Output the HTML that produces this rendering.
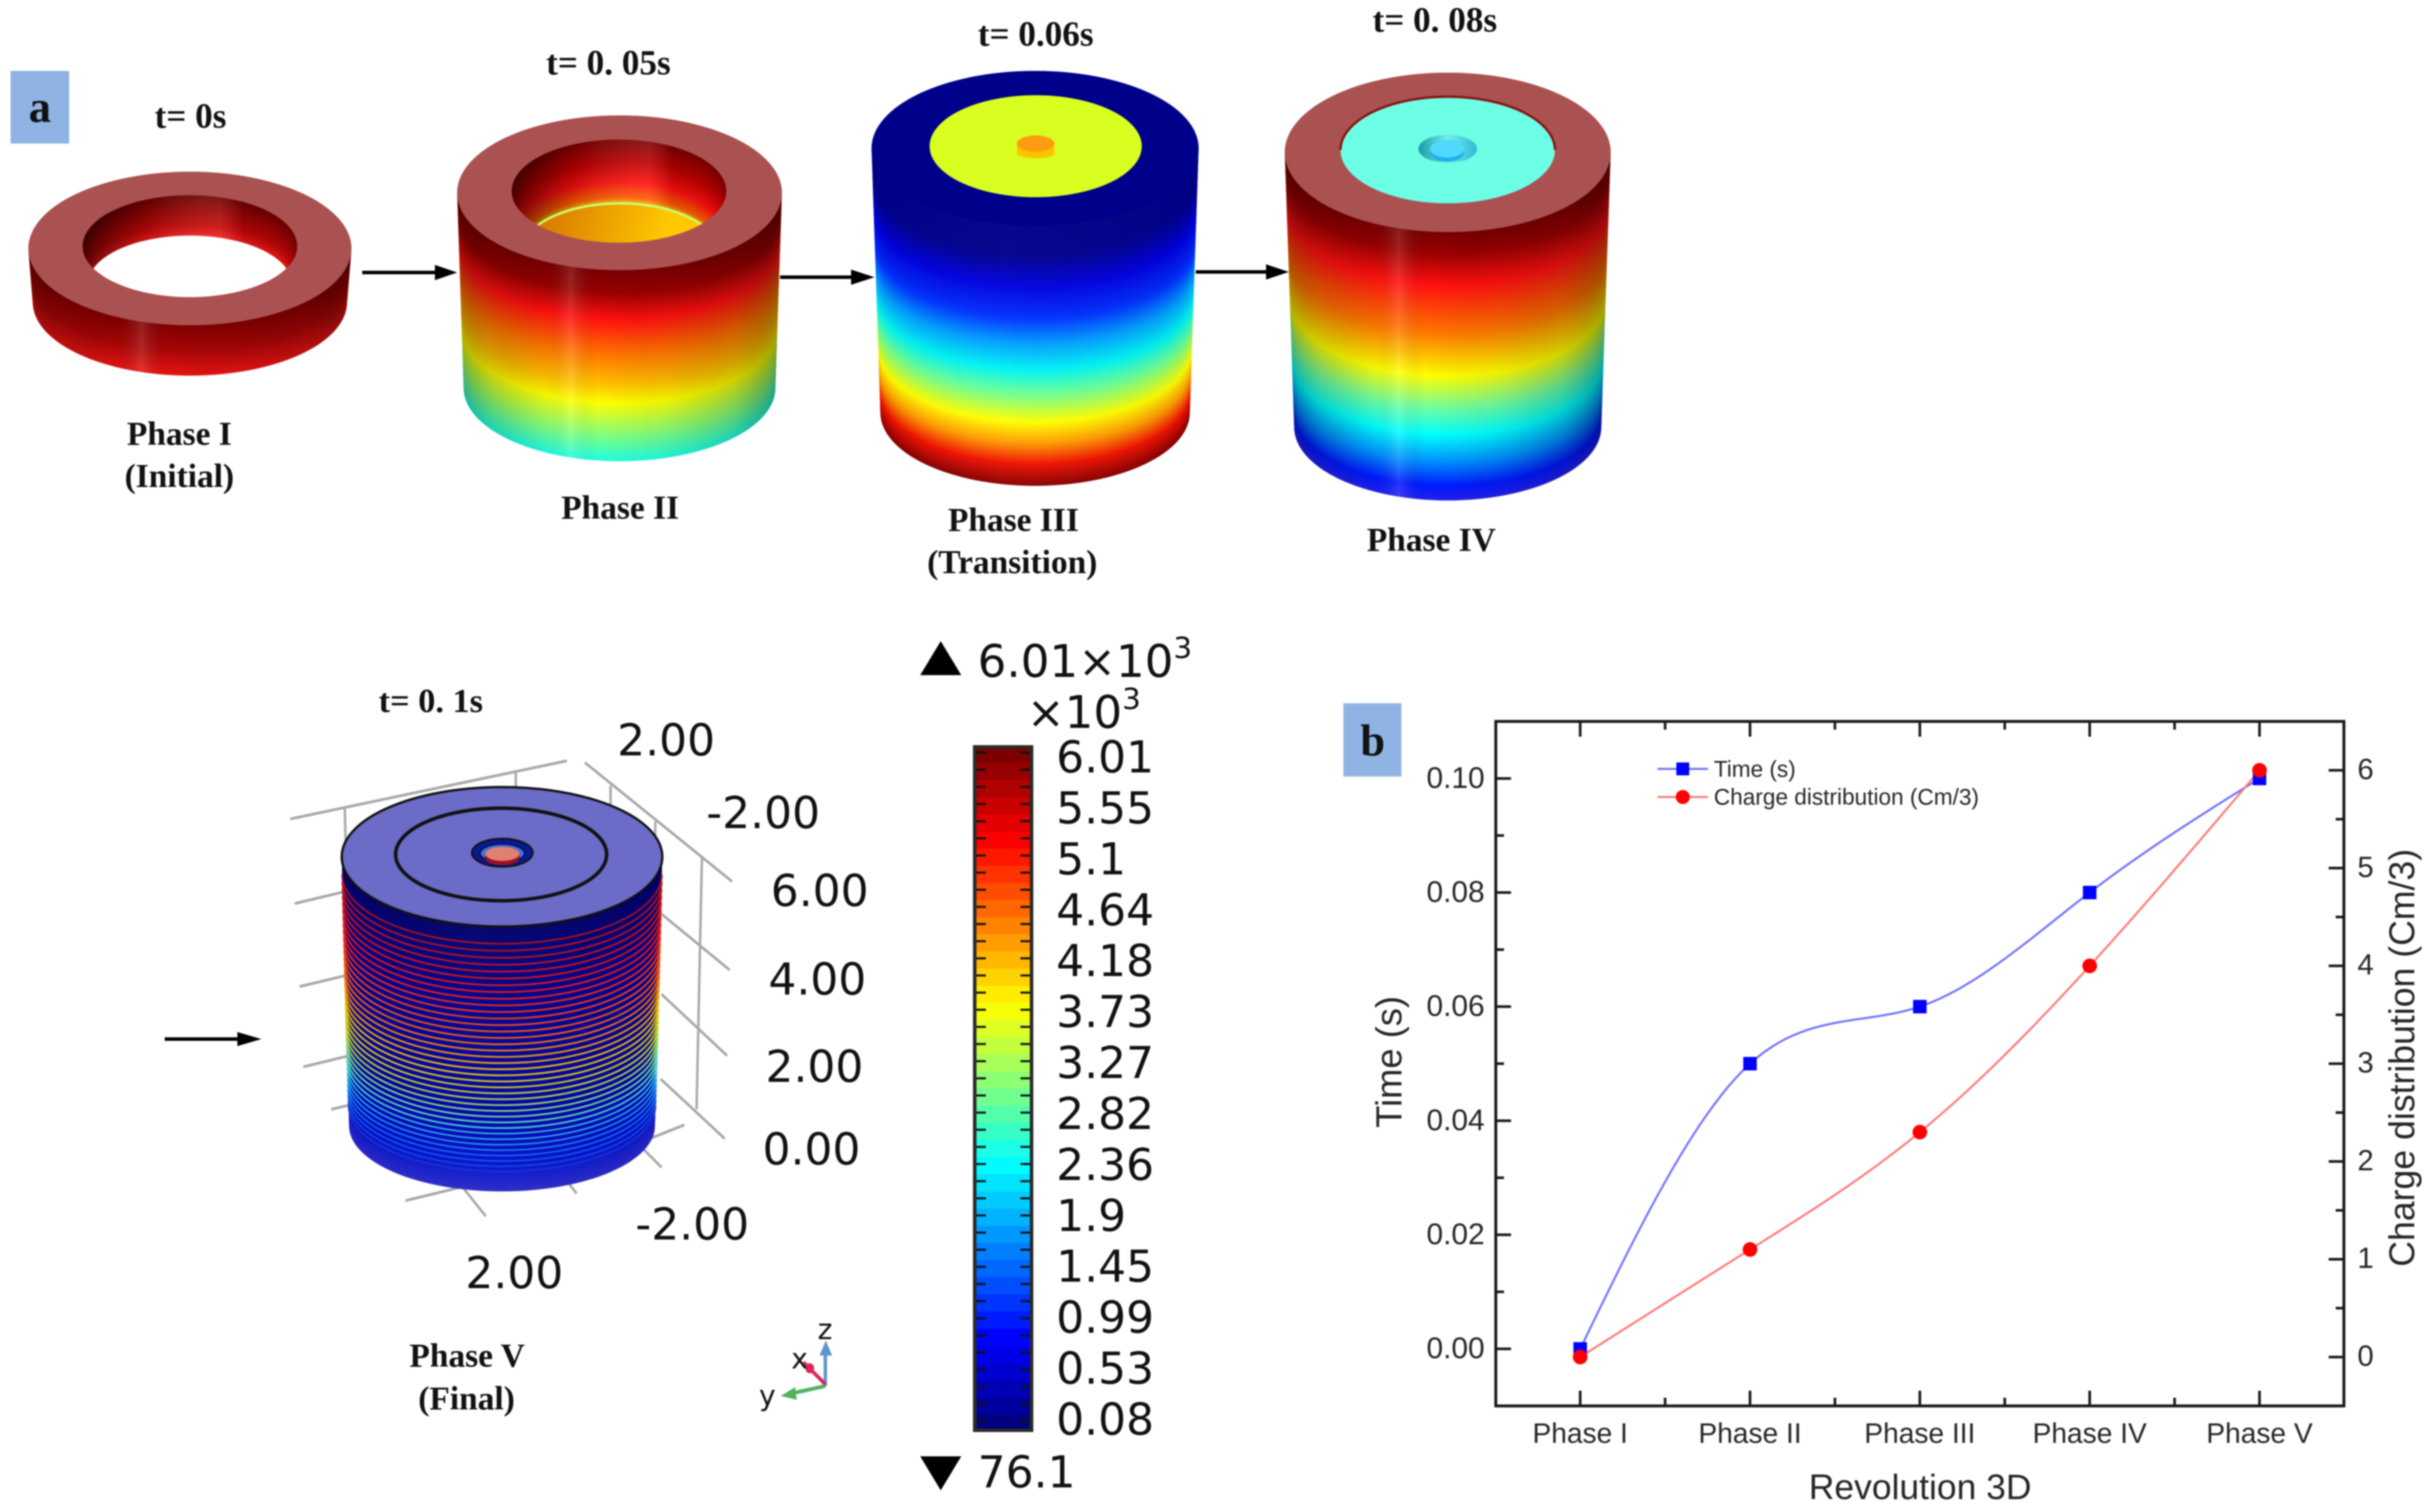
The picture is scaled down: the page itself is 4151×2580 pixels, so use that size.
<!DOCTYPE html>
<html lang="en">
<head>
<meta charset="utf-8">
<title>Revolution 3D phases</title>
<style>
html,body{margin:0;padding:0;background:#fff;}
svg{display:block;filter:blur(1.2px);}
.ser{font-family:"Liberation Serif",serif;font-weight:bold;font-size:57px;fill:#111;text-anchor:middle;}
.tl{font-size:60px;}
.dv{font-family:"DejaVu Sans",sans-serif;font-size:75px;fill:#111;}
.cb{font-family:"DejaVu Sans",sans-serif;font-size:75px;fill:#111;}
.ax{font-family:"Liberation Sans",sans-serif;fill:#262626;}
</style>
</head>
<body>
<svg id="root" xmlns="http://www.w3.org/2000/svg" width="4151" height="2580" viewBox="0 0 4151 2580">
<defs>
<linearGradient id="shade-strong" x1="0" x2="1" y1="0" y2="0">
<stop offset="0" stop-color="#000" stop-opacity=".32"/>
<stop offset=".1" stop-color="#000" stop-opacity=".18"/>
<stop offset=".28" stop-color="#000" stop-opacity=".04"/>
<stop offset=".35" stop-color="#fff" stop-opacity=".13"/>
<stop offset=".43" stop-color="#000" stop-opacity="0"/>
<stop offset=".65" stop-color="#000" stop-opacity=".06"/>
<stop offset=".85" stop-color="#000" stop-opacity=".18"/>
<stop offset="1" stop-color="#000" stop-opacity=".38"/>
</linearGradient>
<linearGradient id="shade-soft" x1="0" x2="1" y1="0" y2="0">
<stop offset="0" stop-color="#000" stop-opacity=".04"/>
<stop offset=".4" stop-color="#fff" stop-opacity=".03"/>
<stop offset="1" stop-color="#000" stop-opacity=".05"/>
</linearGradient>
<linearGradient id="shade-wall" x1="0" x2="1" y1="0" y2="0">
<stop offset="0" stop-color="#000" stop-opacity=".5"/>
<stop offset=".3" stop-color="#000" stop-opacity=".15"/>
<stop offset=".64" stop-color="#fff" stop-opacity=".1"/>
<stop offset=".75" stop-color="#000" stop-opacity=".12"/>
<stop offset="1" stop-color="#000" stop-opacity=".08"/>
</linearGradient>
<linearGradient id="floor-fill" gradientUnits="userSpaceOnUse" x1="930" y1="350" x2="1130" y2="414">
<stop offset="0" stop-color="#d87800"/>
<stop offset="1" stop-color="#ffc800"/>
</linearGradient>
<linearGradient id="tiny-cyan" x1="0" x2="1" y1="0" y2="0">
<stop offset="0" stop-color="#1a9aa8"/>
<stop offset=".5" stop-color="#70f0e8"/>
<stop offset="1" stop-color="#30b8d8"/>
</linearGradient>
<clipPath id="hole-1"><ellipse cx="324" cy="420" rx="183" ry="87"/></clipPath>
<clipPath id="hole-2"><ellipse cx="1056" cy="326" rx="183" ry="88"/></clipPath>
</defs>

<rect width="4151" height="2580" fill="#fff"/>

<!-- panel tags -->
<rect x="18" y="121" width="100" height="124" fill="#8fb4e3"/>
<text class="ser" x="68" y="208" style="font-size:76px">a</text>
<rect x="2292" y="1200" width="99" height="125" fill="#8fb4e3"/>
<text class="ser" x="2342" y="1289" style="font-size:76px">b</text>

<!-- simulation cylinders -->
<g id="phase1"></g>
<g id="phase2"></g>
<g id="phase3"></g>
<g id="phase4"></g>

<!-- phase labels -->
<text class="ser tl" x="325" y="218">t= 0s</text>
<text class="ser tl" x="1038" y="127">t= 0. 05s</text>
<text class="ser tl" x="1767" y="78">t= 0.06s</text>
<text class="ser tl" x="2448" y="54">t= 0. 08s</text>
<text class="ser" x="735" y="1215" textLength="178" lengthAdjust="spacingAndGlyphs">t= 0. 1s</text>
<text class="ser" x="306" y="759">Phase I</text>
<text class="ser" x="306" y="831">(Initial)</text>
<text class="ser" x="1058" y="885">Phase II</text>
<text class="ser" x="1729" y="906">Phase III</text>
<text class="ser" x="1727" y="978">(Transition)</text>
<text class="ser" x="2442" y="940">Phase IV</text>
<text class="ser" x="797" y="2332">Phase V</text>
<text class="ser" x="796" y="2405">(Final)</text>

<!-- flow arrows -->
<g><line x1="618" y1="465" x2="745" y2="465" stroke="#000" stroke-width="6"/><polygon points="742,452 780,465 742,478" fill="#000"/></g>
<g><line x1="1331" y1="473" x2="1455" y2="473" stroke="#000" stroke-width="6"/><polygon points="1452,460 1492,473 1452,486" fill="#000"/></g>
<g><line x1="2040" y1="464" x2="2165" y2="464" stroke="#000" stroke-width="6"/><polygon points="2160,451 2199,464 2160,477" fill="#000"/></g>
<g><line x1="281" y1="1773" x2="410" y2="1773" stroke="#000" stroke-width="6"/><polygon points="405,1761 446,1773 405,1785" fill="#000"/></g>

<!-- phase V axes cage -->
<g transform="translate(250,1100) scale(.829,.944)" stroke="#a8a8a8" stroke-width="5" fill="none">
<path d="M296 315L865 210M902 213L1205 428M408 297L410 365M760 232V265M955 255V295M1047 320V350M1143 385L1132 840"/>
<path d="M305 468L405 447M315 618L415 597M323 763L422 742M380 840L428 830"/>
<path d="M1060 487L1200 588M1060 632L1195 743M1058 785L1190 893"/>
<path d="M533 1005L650 980L698 1033M1030 895L1107 868M1015 905L1060 945M870 975L885 992M430 885L490 925"/>
</g>
<g id="phase5"></g>

<text class="dv" x="1053" y="1289">2.00</text>
<text class="dv" x="1205" y="1413">-2.00</text>
<text class="dv" x="1315" y="1546">6.00</text>
<text class="dv" x="1311" y="1697">4.00</text>
<text class="dv" x="1306" y="1846">2.00</text>
<text class="dv" x="1301" y="1987">0.00</text>
<text class="dv" x="1084" y="2115">-2.00</text>
<text class="dv" x="794" y="2198">2.00</text>

<!-- orientation triad -->
<g transform="translate(250,1100) scale(.829,.944)">
<path d="M1397 1340V1280" stroke="#5b94cc" stroke-width="7" fill="none"/>
<polygon points="1385,1285 1398,1258 1411,1285" fill="#5b94cc"/>
<path d="M1397 1340L1330 1353" stroke="#55b060" stroke-width="7" fill="none"/>
<polygon points="1335,1342 1305,1358 1338,1365" fill="#55b060"/>
<path d="M1397 1337L1352 1297" stroke="#d8285c" stroke-width="7" fill="none"/>
<circle cx="1365" cy="1308" r="9" fill="#d8285c"/>
</g>
<text class="dv" x="1395" y="2285" style="font-size:48px">z</text>
<text class="dv" x="1350" y="2335" style="font-size:48px">x</text>
<text class="dv" x="1295" y="2398" style="font-size:48px">y</text>

<!-- colour bar -->
<polygon points="1570,1152 1605,1094 1640,1152" fill="#000"/>
<text class="cb" x="1668" y="1155" style="font-size:77px">6.01×10<tspan dy="-32" style="font-size:50px">3</tspan></text>
<text class="cb" x="1752" y="1242" style="font-size:77px">×10<tspan dy="-32" style="font-size:50px">3</tspan></text>
<g id="colorbar"></g>
<polygon points="1570,2485 1640,2485 1605,2543" fill="#000"/>
<text class="cb" x="1668" y="2538">76.1</text>

<!-- chart b -->
<g id="chart"></g>

<script>
// ---- Chart data (panel b) ----
const categories = ['Phase I', 'Phase II', 'Phase III', 'Phase IV', 'Phase V'];
const timeValues = [0, 0.05, 0.06, 0.08, 0.10];
const chargeValues = [0, 1.1, 2.3, 4, 6];
const leftTickLabels = ['0.00', '0.02', '0.04', '0.06', '0.08', '0.10'];
const rightTickLabels = ['0', '1', '2', '3', '4', '5', '6'];
const colorbarLabels = ['6.01', '5.55', '5.1', '4.64', '4.18', '3.73', '3.27', '2.82', '2.36', '1.9', '1.45', '0.99', '0.53', '0.08'];

const NS = 'http://www.w3.org/2000/svg';
function mk(parent, tag, attrs, txt) {
  const el = document.createElementNS(NS, tag);
  for (const k in attrs) el.setAttribute(k, attrs[k]);
  if (txt !== undefined) el.textContent = txt;
  parent.appendChild(el);
  return el;
}
function hex(c) { return [parseInt(c.slice(1,3),16), parseInt(c.slice(3,5),16), parseInt(c.slice(5,7),16)]; }
function ramp(stops, t) {
  if (t <= stops[0][0]) return stops[0][1];
  for (let i = 1; i < stops.length; i++) {
    if (t <= stops[i][0]) {
      const f = (t - stops[i-1][0]) / (stops[i][0] - stops[i-1][0]);
      const a = hex(stops[i-1][1]), b = hex(stops[i][1]);
      return 'rgb(' + a.map((v, j) => Math.round(v + (b[j] - v) * f)).join(',') + ')';
    }
  }
  return stops[stops.length-1][1];
}

// ---- 3D bodies ----
function drawSide(g, s) {
  const n = 130;
  for (let i = n; i >= 0; i--) {
    const t = i / n;
    const el = mk(g, 'ellipse', {
      cx: s.cx,
      cy: s.cy + (s.by - s.cy) * t,
      rx: s.rx + (s.brx - s.rx) * t,
      ry: s.ry + (s.bry - s.ry) * t,
      fill: ramp(s.stops, t)
    });
    
    
  }
  const d = 'M' + (s.cx - s.rx) + ' ' + s.cy + 'L' + (s.cx - s.brx) + ' ' + s.by +
    'A' + s.brx + ' ' + s.bry + ' 0 0 0 ' + (s.cx + s.brx) + ' ' + s.by +
    'L' + (s.cx + s.rx) + ' ' + s.cy +
    'A' + s.rx + ' ' + s.ry + ' 0 0 0 ' + (s.cx - s.rx) + ' ' + s.cy + 'Z';
  const sh = mk(g, 'path', { d: d, fill: 'url(#' + s.shade + ')' });
  
  
}
function drawWall(g, clip, cx, cy, rx, ry, depth, frx, fry, stops) {
  const w = mk(g, 'g', { 'clip-path': 'url(#' + clip + ')' });
  
  
  const n = 50;
  for (let i = 0; i <= n; i++) {
    const t = i / n;
    const el = mk(w, 'ellipse', {
      cx: cx, cy: cy + depth * t,
      rx: rx + (frx - rx) * t, ry: ry + (fry - ry) * t,
      fill: ramp(stops, t)
    });
    
    
  }
  const sh = mk(w, 'rect', { x: cx - rx, y: cy - ry, width: rx * 2, height: ry * 2, fill: 'url(#shade-wall)' });
  
  
  return w;
}
function disc(g, name, cx, cy, rx, ry, fill, extra) {
  const el = mk(g, 'ellipse', Object.assign({ cx: cx, cy: cy, rx: rx, ry: ry, fill: fill }, extra || {}));
  
  
  return el;
}
const TOP = '#aa5252';

// Phase I
(function () {
  const g = document.getElementById('phase1');
  drawSide(g, { cx: 324, cy: 424, rx: 275.5, ry: 131, by: 516, brx: 268, bry: 125, shade: 'shade-strong',
    stops: [[0, '#800000'], [.5, '#a80606'], [1, '#e81414']] });
  disc(g, 'top-face', 324, 424, 275.5, 131, TOP);
  const w = drawWall(g, 'hole-1', 324, 420, 183, 87, 69, 174, 83, [[0, '#700000'], [.7, '#c80808'], [1, '#ff2020']]);
  disc(w, 'ring-opening', 324, 485, 174, 83, '#fff');
})();

// Phase II
(function () {
  const g = document.getElementById('phase2');
  drawSide(g, { cx: 1057, cy: 329, rx: 277, ry: 132, by: 662, brx: 266, bry: 125, shade: 'shade-strong',
    stops: [[0, '#780000'], [.12, '#980000'], [.26, '#ff1010'], [.435, '#ff7000'], [.6, '#ffc000'], [.7, '#ffff00'], [.85, '#90ff70'], [1, '#20ffe0']] });
  disc(g, 'top-face', 1057, 329, 277, 132, TOP);
  const w = drawWall(g, 'hole-2', 1056, 326, 183, 88, 109, 172, 88, [[0, '#800000'], [.35, '#c00000'], [.65, '#ff1010'], [.9, '#ff6000'], [1, '#ffd000']]);
  disc(w, 'inner-floor', 1058, 435, 172, 88, 'url(#floor-fill)', { stroke: '#c8ff70', 'stroke-width': 4 });
})();

// Phase III
(function () {
  const g = document.getElementById('phase3');
  drawSide(g, { cx: 1766, cy: 253, rx: 279, ry: 132, by: 704, brx: 264, bry: 125, shade: 'shade-soft',
    stops: [[0, '#00008a'], [.12, '#00008e'], [.24, '#0000e0'], [.36, '#0030ff'], [.46, '#00a0ff'], [.56, '#00f4f4'], [.64, '#60ffa0'], [.76, '#ffff00'], [.84, '#ff9a00'], [.92, '#f01000'], [1, '#8a0000']] });
  disc(g, 'top-face', 1766, 253, 279, 132, '#00008a');
  disc(g, 'inner-disc', 1767, 249.5, 181, 87, '#d8ff20');
  const b = mk(g, 'path', { d: 'M1735 245V262A32 8 0 0 0 1799 262V245Z', fill: '#ffc400' });
  
  
  disc(g, 'center-post-top', 1767, 245, 32, 14, '#ff9c10');
})();

// Phase IV
(function () {
  const g = document.getElementById('phase4');
  drawSide(g, { cx: 2470, cy: 260, rx: 278, ry: 136, by: 729, brx: 262, bry: 125, shade: 'shade-strong',
    stops: [[0, '#780000'], [.08, '#980000'], [.2, '#ff1010'], [.38, '#ff7800'], [.54, '#ffff00'], [.66, '#70ffa0'], [.76, '#00ffff'], [.86, '#0090ff'], [.95, '#0018ff'], [1, '#2020f0']] });
  disc(g, 'top-face', 2470, 260, 278, 136, TOP);
  disc(g, 'inner-disc', 2470, 256, 183, 91, '#6cffe6');
  const rim = mk(g, 'path', { d: 'M2287 256A183 91 0 0 1 2653 256', fill: 'none', stroke: '#8a1010', 'stroke-width': 4 });
  
  
  disc(g, 'center-collar', 2470, 254, 50, 24, 'url(#tiny-cyan)');
  disc(g, 'center-post-base', 2469, 260, 29, 16, '#20b0e8');
  disc(g, 'center-post-top', 2469, 254, 29, 15, '#50d8ff');
})();

// Phase V
(function () {
  const g = document.getElementById('phase5');
  const s = { cx: 856.5, cy: 1462, rx: 273.5, ry: 119, by: 1921, brx: 261, bry: 112, shade: 'shade-soft',
    stops: [[0, '#00006a'], [.3, '#000090'], [.7, '#0000a8'], [.9, '#0010d0'], [1, '#2828c8']] };
  drawSide(g, s);
  const lineStops = [[0, '#a81020'], [.2, '#e81818'], [.38, '#f06008'], [.52, '#e8c000'], [.62, '#c0d020'], [.72, '#70d890'], [.82, '#30c8e0'], [.92, '#1870f0'], [1, '#1838d0']];
  const N = 38;
  for (let i = 0; i < N; i++) {
    const u = i / (N - 1);
    const t = .065 + .86 * (1.15 * u - .15 * u * u);
    const y = s.cy + (s.by - s.cy) * t;
    const rx = s.rx + (s.brx - s.rx) * t;
    const ry = s.ry + (s.bry - s.ry) * t;
    const el = mk(g, 'path', {
      d: 'M' + (s.cx - rx) + ' ' + y + 'A' + rx + ' ' + ry + ' 0 0 0 ' + (s.cx + rx) + ' ' + y,
      fill: 'none', stroke: ramp(lineStops, u), 'stroke-width': u < .8 ? 3 : 2.4
    });
    
    
  }
  disc(g, 'top-face', 856.5, 1462, 273.5, 119, '#6b6bc8', { stroke: '#111', 'stroke-width': 4 });
  disc(g, 'ring-contour', 855, 1458, 180, 79, 'none', { stroke: '#111', 'stroke-width': 6 });
  disc(g, 'center-collar', 857, 1455, 52, 24, '#0a1a90', { stroke: '#111', 'stroke-width': 3 });
  disc(g, 'center-collar-inner', 857, 1456, 38, 16, '#4a70d0', { stroke: '#001070', 'stroke-width': 3 });
  disc(g, 'center-post-base', 857, 1463, 30, 13, '#a01020');
  disc(g, 'center-post-top', 857, 1457, 29, 12, '#e08070');
})();

// ---- Colour bar ----
const jetStops = [[0, '#000070'], [.02, '#00008a'], [.135, '#0000ff'], [.39, '#00ffff'], [.5, '#80ff80'], [.62, '#ffff00'], [.86, '#ff0000'], [1, '#700000']];
(function () {
  const g = document.getElementById('colorbar');
  const L = 1661, R = 1762, T = 1272.5, B = 2442.5, bands = 40;
  const h = (B - T) / bands;
  for (let i = 0; i < bands; i++) {
    const el = mk(g, 'rect', { x: L, y: T + i * h, width: R - L, height: h + 1, fill: ramp(jetStops, 1 - (i + .5) / bands) });
    
    
  }
  for (let i = 0; i < bands; i++) {
    const y = T + (i + .4) * h;
    const a = mk(g, 'line', { x1: L, x2: L + 21, y1: y, y2: y, stroke: '#111', 'stroke-width': 3.5 });
    
    
    const b = mk(g, 'line', { x1: R - 21, x2: R, y1: y, y2: y, stroke: '#111', 'stroke-width': 3.5 });
    
    
  }
  const fr = mk(g, 'rect', { x: L + 2, y: T + 2, width: R - L - 4, height: B - T - 4, fill: 'none', stroke: '#2a2a2a', 'stroke-width': 6 });
  
  
  const baseTop = 1318, step = (2448 - 1318) / (colorbarLabels.length - 1);
  colorbarLabels.forEach(function (lab, i) {
    const tx = mk(g, 'text', { x: 1802, y: baseTop + i * step, class: 'cb' }, lab);
    
    
  });
})();

// ---- Chart b ----
const frame = { left: 2552, right: 3999, top: 1231, bottom: 2399 };
const xStart = 2696, xStep = 289.75;
function xScale(i) { return xStart + i * xStep; }
function yLeft(v) { return frame.bottom - (v + 0.01) / 0.12 * (frame.bottom - frame.top); }
function yRight(v) { return frame.bottom - (v + 0.5) / 7 * (frame.bottom - frame.top); }
function naturalSpline(ys) {
  const n = ys.length, m = new Array(n).fill(0), c = new Array(n).fill(0), d = new Array(n).fill(0);
  for (let i = 1; i < n - 1; i++) {
    const r = 6 * (ys[i-1] - 2 * ys[i] + ys[i+1]);
    const den = 4 - c[i-1];
    c[i] = 1 / den;
    d[i] = (r - d[i-1]) / den;
  }
  for (let i = n - 2; i > 0; i--) m[i] = d[i] - c[i] * m[i+1];
  return function (x) {
    const i = Math.min(Math.floor(x), n - 2), a = i + 1 - x, b = x - i;
    return a * ys[i] + b * ys[i+1] + ((a*a*a - a) * m[i] + (b*b*b - b) * m[i+1]) / 6;
  };
}
function splinePath(ys, yFn) {
  const f = naturalSpline(ys);
  const pts = [];
  for (let k = 0; k <= (ys.length - 1) * 24; k++) {
    const x = k / 24;
    pts.push(xScale(x).toFixed(1) + ' ' + yFn(f(x)).toFixed(1));
  }
  return 'M' + pts.join('L');
}
(function () {
  const g = document.getElementById('chart');
  const FR = frame, ink = '#1a1a1a';
  const box = mk(g, 'rect', { x: FR.left, y: FR.top, width: FR.right - FR.left, height: FR.bottom - FR.top, fill: 'none', stroke: ink, 'stroke-width': 5 });
  
  

  function tick(x1, y1, x2, y2, name) {
    const t = mk(g, 'line', { x1: x1, y1: y1, x2: x2, y2: y2, stroke: ink, 'stroke-width': 4.5 });
    
    
  }
  const MAJ = 26, MIN = 14;
  // x ticks
  categories.forEach(function (c, i) {
    const x = xScale(i);
    tick(x, FR.bottom, x, FR.bottom - MAJ, 'x-tick');
    tick(x, FR.top, x, FR.top + MAJ, 'x-tick-top');
    if (i < categories.length - 1) {
      tick(xScale(i + .5), FR.bottom, xScale(i + .5), FR.bottom - MIN, 'x-minor-tick');
      tick(xScale(i + .5), FR.top, xScale(i + .5), FR.top + MIN, 'x-minor-tick-top');
    }
    const tx = mk(g, 'text', { x: x, y: 2462, class: 'ax', 'text-anchor': 'middle', 'font-size': 48 }, c);
    
    
  });
  // left ticks
  const lv = leftTickLabels.map(parseFloat);
  lv.forEach(function (v, i) {
    const y = yLeft(v);
    tick(FR.left, y, FR.left + MAJ, y, 'left-tick');
    if (i < lv.length - 1) {
      const mid = yLeft((v + lv[i+1]) / 2);
      tick(FR.left, mid, FR.left + MIN, mid, 'left-minor-tick');
    }
    const tx = mk(g, 'text', { x: 2533, y: y + 16, class: 'ax', 'text-anchor': 'end', 'font-size': 51 }, leftTickLabels[i]);
    
    
  });
  // right ticks
  const rv = rightTickLabels.map(parseFloat);
  rv.forEach(function (v, i) {
    const y = yRight(v);
    tick(FR.right, y, FR.right - MAJ, y, 'right-tick');
    if (i < rv.length - 1) {
      const mid = yRight((v + rv[i+1]) / 2);
      tick(FR.right, mid, FR.right - MIN, mid, 'right-minor-tick');
    }
    const tx = mk(g, 'text', { x: 4022, y: y + 15, class: 'ax', 'font-size': 50 }, rightTickLabels[i]);
    
    
  });
  // axis titles
  const xt = mk(g, 'text', { x: 3276, y: 2558, class: 'ax', 'text-anchor': 'middle', 'font-size': 60.5 }, 'Revolution 3D');
  
  
  const yt = mk(g, 'text', { transform: 'translate(2391 1812) rotate(-90)', class: 'ax', 'text-anchor': 'middle', 'font-size': 62 }, 'Time (s)');
  
  
  const rt = mk(g, 'text', { transform: 'translate(4119 1805) rotate(-90)', class: 'ax', 'text-anchor': 'middle', 'font-size': 60.8 }, 'Charge distribution (Cm/3)');
  
  

  // series
  const lineBlue = mk(g, 'path', { d: splinePath(timeValues, yLeft), fill: 'none', stroke: '#7070ff', 'stroke-width': 3.5 });
  
  
  const lineRed = mk(g, 'path', { d: splinePath(chargeValues, yRight), fill: 'none', stroke: '#ff7878', 'stroke-width': 3.5 });
  
  
  timeValues.forEach(function (v, i) {
    const m = mk(g, 'rect', { x: xScale(i) - 11.5, y: yLeft(v) - 11.5, width: 23, height: 23, fill: '#0000ff' });
    
    
  });
  chargeValues.forEach(function (v, i) {
    const m = mk(g, 'circle', { cx: xScale(i), cy: yRight(v), r: 12.5, fill: '#ff0000' });
    
    
  });

  // legend
  const l1 = mk(g, 'line', { x1: 2828, x2: 2914, y1: 1312, y2: 1312, stroke: '#7070ff', 'stroke-width': 3.5 });
  
  
  const m1 = mk(g, 'rect', { x: 2860, y: 1301, width: 22, height: 22, fill: '#0000ff' });
  
  
  const t1 = mk(g, 'text', { x: 2924, y: 1325.5, class: 'ax', 'font-size': 38.5 }, 'Time (s)');
  
  
  const l2 = mk(g, 'line', { x1: 2828, x2: 2914, y1: 1360, y2: 1360, stroke: '#ff7878', 'stroke-width': 3.5 });
  
  
  const m2 = mk(g, 'circle', { cx: 2871, cy: 1360, r: 12, fill: '#ff0000' });
  
  
  const t2 = mk(g, 'text', { x: 2924, y: 1373, class: 'ax', 'font-size': 38.6 }, 'Charge distribution (Cm/3)');
  
  
})();
</script>
</svg>
</body>
</html>
